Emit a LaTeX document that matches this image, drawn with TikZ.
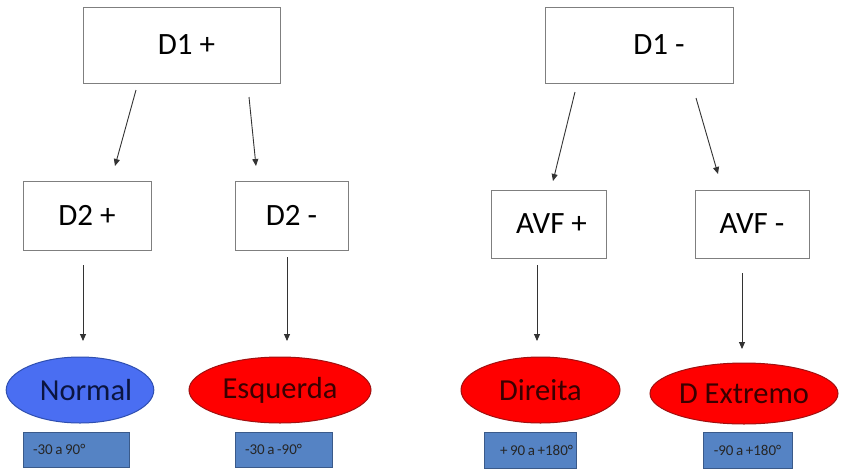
\documentclass[tikz,border=0pt]{standalone}
\usepackage{fontspec}
\setmainfont{Carlito}
\usetikzlibrary{arrows.meta,shapes.geometric}
\definecolor{boxline}{HTML}{7F7F7F}
\definecolor{arrline}{HTML}{333333}
\definecolor{blueell}{HTML}{4A6EF2}
\definecolor{blueedge}{HTML}{2F4FB0}
\definecolor{redell}{HTML}{FF0000}
\definecolor{rededge}{HTML}{A01010}
\definecolor{lblfill}{HTML}{5583C4}
\definecolor{lbledge}{HTML}{3A5A8A}
\definecolor{navytext}{HTML}{0B1540}
\definecolor{redtext}{HTML}{3A0000}
\newcommand\lbltxt[3]{\makebox[#1][#2]{\spaceskip=0.17em\relax #3}}
\begin{document}
\begin{tikzpicture}[x=1pt,y=-1pt,
  bigtext/.style={font=\fontsize{31}{36}\selectfont},
  whitebox/.style={draw=boxline, line width=1pt, fill=white, rectangle, bigtext, inner sep=0pt},
  ell/.style={ellipse, line width=1pt, inner sep=0pt, font=\fontsize{30.5}{36}\selectfont},
  blueellipse/.style={ell, draw=blueedge, fill=blueell, text=navytext},
  redellipse/.style={ell, draw=rededge, fill=redell, text=redtext},
  lbl/.style={rectangle, draw=lbledge, line width=1pt, fill=lblfill, inner sep=0pt, minimum height=35pt, font=\fontsize{15}{18}\selectfont, text=black!85},
  arr/.style={draw=arrline, line width=0.9pt, -{Triangle[length=7pt,width=6pt]}}
]
\useasboundingbox (0,0) rectangle (844,469);
\fill[white] (0,0) rectangle (844,469);

% top boxes
\node[whitebox, minimum width=197pt, minimum height=76pt] (d1p) at (181.5,45) {\hspace*{10pt}D1 +};
\node[whitebox, minimum width=188pt, minimum height=76pt] (d1m) at (639,45) {\hspace*{40pt}D1 -};

% second level
\node[whitebox, minimum width=128pt, minimum height=69pt] (d2p) at (87,215.5) {D2 +};
\node[whitebox, minimum width=113pt, minimum height=69pt] (d2m) at (291.5,215.5) {D2 -};
\node[whitebox, minimum width=115pt, minimum height=68pt] (avfp) at (548.5,224) {\hspace*{6pt}AVF +};
\node[whitebox, minimum width=114pt, minimum height=68pt] (avfm) at (752,224) {AVF -};

% ellipses
\node[blueellipse, minimum width=144pt, minimum height=66pt] (normal) at (80,390) {\hspace*{12pt}Normal};
\node[redellipse, minimum width=182pt, minimum height=66pt] (esq) at (280,390) {Esquerda};
\node[redellipse, minimum width=159pt, minimum height=66pt] (dir) at (540.5,390) {Direita};
\node[redellipse, minimum width=188pt, minimum height=61pt] (dext) at (744,393.5) {D Extremo};

% labels
\node[lbl, minimum width=106pt] (l1) at (76,449.5) {\lbltxt{86pt}{l}{-30 a 90°}};
\node[lbl, minimum width=97pt] (l2) at (283.5,449.5) {\lbltxt{77pt}{l}{-30 a -90°}};
\node[lbl, minimum width=92pt, minimum height=36pt] (l3) at (530,450) {\lbltxt{86pt}{r}{+ 90 a +180°}};
\node[lbl, minimum width=89pt, minimum height=36pt] (l4) at (747.5,450) {\lbltxt{79pt}{c}{-90 a +180°}};

% arrow end points
\coordinate (a1s) at (136,90);   \coordinate (a1e) at (115,166);
\coordinate (a2s) at (249,97);   \coordinate (a2e) at (256,166);
\coordinate (a3s) at (575,92);   \coordinate (a3e) at (553,181);
\coordinate (a4s) at (696,98);   \coordinate (a4e) at (718,174);
\coordinate (b1s) at (83,265);   \coordinate (b1e) at (83,341);
\coordinate (b2s) at (287,257);  \coordinate (b2e) at (287,341);
\coordinate (b3s) at (537,265);  \coordinate (b3e) at (537,341);
\coordinate (b4s) at (742,273);  \coordinate (b4e) at (742,349);

\draw[arr] (a1s) -- (a1e);
\draw[arr] (a2s) -- (a2e);
\draw[arr] (a3s) -- (a3e);
\draw[arr] (a4s) -- (a4e);
\draw[arr] (b1s) -- (b1e);
\draw[arr] (b2s) -- (b2e);
\draw[arr] (b3s) -- (b3e);
\draw[arr] (b4s) -- (b4e);
\end{tikzpicture}
\end{document}
